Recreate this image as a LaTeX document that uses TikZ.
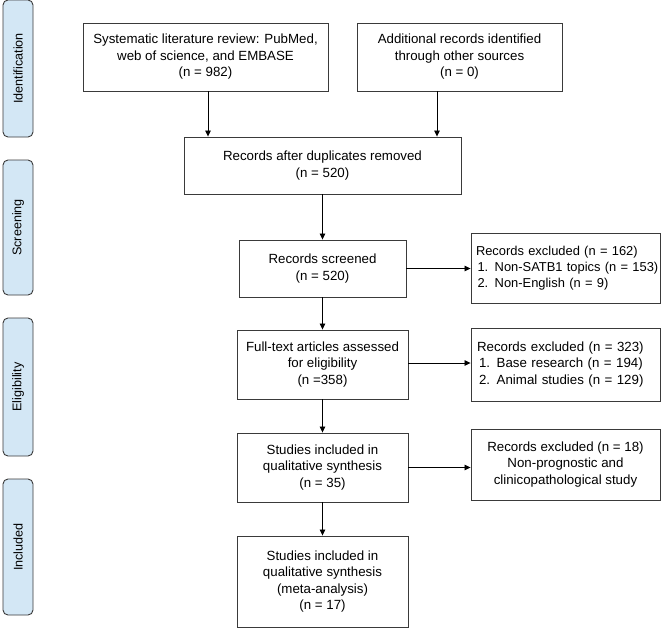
\documentclass[tikz,border=0pt]{standalone}
\usepackage{fontspec}
\setmainfont{Liberation Sans}
\usetikzlibrary{arrows.meta}
\definecolor{sidefill}{HTML}{D3E7F5}
\definecolor{linec}{HTML}{3A3A3A}
\begin{document}
\begin{tikzpicture}[x=1pt,y=-1pt,
  every node/.style={font=\fontsize{13.3}{16.5}\selectfont, text=black},
  box/.style={draw=linec, line width=0.9pt, fill=white, align=center, inner sep=2pt},
  rbox/.style={box, align=left, text width=177pt},
  side/.style={draw=linec, line width=0.9pt, fill=sidefill, rounded corners=5pt, rotate=90, minimum height=30pt, inner sep=0pt, font=\fontsize{12.6}{15}\selectfont},
  arr/.style={draw=black, line width=0.8pt, -{Triangle[length=6pt,width=5.5pt]}}
]
\useasboundingbox (0,0) rectangle (662,630);

% side labels
\node[side, minimum width=137pt] (s1) at (18,68.5) {Identification};
\node[side, minimum width=135pt] (s2) at (18,227.5) {Screening};
\node[side, minimum width=138pt] (s3) at (18,387) {Eligibility};
\node[side, minimum width=136pt] (s4) at (18,547) {Included};

% main column
\node[box, minimum width=245pt, minimum height=68pt] (b1) at (205.5,57)
  {Systematic literature review: PubMed,\\ web of science, and EMBASE\\ (n = 982)};
\node[box, minimum width=205pt, minimum height=68pt] (b2) at (459.5,57)
  {Additional records identified\\ through other sources\\ (n = 0)};
\node[box, minimum width=277pt, minimum height=57pt] (b3) at (322.5,165.5)
  {Records after duplicates removed\\ (n = 520)};
\node[box, minimum width=167pt, minimum height=57pt] (b4) at (322.5,268.5)
  {Records screened\\ (n = 520)};
\node[box, minimum width=171pt, minimum height=69pt] (b5) at (322.5,364.5)
  {Full-text articles assessed\\ for eligibility\\ (n =358)};
\node[box, minimum width=171pt, minimum height=69pt] (b6) at (322.5,467.5)
  {Studies included in\\ qualitative synthesis\\ (n = 35)};
\node[box, minimum width=171pt, minimum height=91pt] (b7) at (322.5,581.5)
  {Studies included in\\ qualitative synthesis\\ (meta-analysis)\\ (n = 17)};

% right column
\node[rbox, minimum width=189pt, minimum height=70pt, text width=179pt, font=\fontsize{12.9}{16.2}\selectfont] (r1) at (565.5,268)
  {\mbox{Records excluded (n = 162)}\\ \mbox{\hspace*{1.5pt}1. Non-SATB1 topics (n = 153)}\\ \mbox{\hspace*{1.5pt}2. Non-English (n = 9)}};
\node[rbox, minimum width=189pt, minimum height=73pt] (r2) at (565.5,364.5)
  {\mbox{Records excluded (n = 323)}\\ \mbox{\hspace*{2pt}1. Base research (n = 194)}\\ \mbox{\hspace*{2pt}2. Animal studies (n = 129)}};
\node[box, minimum width=189pt, minimum height=71pt] (r3) at (565.5,464.5)
  {Records excluded (n = 18)\\ Non-prognostic and\\ clinicopathological study};

% connectors
\draw[arr] ([xshift=2.5pt]b1.south) -- ([xshift=2.5pt]b1.south |- b3.north);
\draw[arr] ([xshift=-22.5pt]b2.south) -- ([xshift=-22.5pt]b2.south |- b3.north);
\draw[arr] (b3) -- (b4);
\draw[arr] (b4) -- (b5);
\draw[arr] (b5) -- (b6);
\draw[arr] (b6) -- (b7);
\draw[arr] (b4.east) -- (b4.east -| r1.west);
\draw[arr] ([yshift=1.5pt]b5.east) -- ([yshift=1.5pt]b5.east -| r2.west);
\draw[arr] (b6.east) -- (b6.east -| r3.west);
\end{tikzpicture}
\end{document}
